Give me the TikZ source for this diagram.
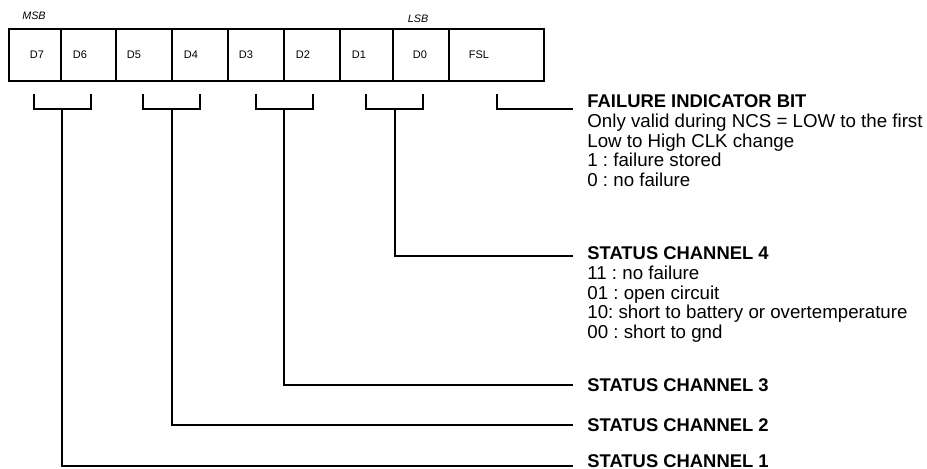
\documentclass[tikz,border=0pt]{standalone}
\usepackage{fontspec}
\setmainfont{Liberation Sans}
\usetikzlibrary{positioning}
\frenchspacing
\tikzset{
  frame/.style={draw=black,line width=1pt},
  wire/.style={draw=black,line width=1pt},
  bitlab/.style={font=\fontsize{5.5}{6}\selectfont,inner sep=0pt},
  endlab/.style={font=\fontsize{5.4}{6}\selectfont\itshape,inner sep=0pt},
  head/.style={anchor=west,inner xsep=7pt,inner ysep=0pt,font=\fontsize{9.2}{9.7}\selectfont\bfseries},
  note/.style={inner xsep=7pt,inner ysep=0pt,align=left,font=\fontsize{9.35}{9.75}\selectfont},
}

\begin{document}
\begin{tikzpicture}[x=0.5pt,y=-0.5pt]
\useasboundingbox (0,0) rectangle (927,469);
% register
\draw[frame] (9,29) rectangle (544,81);
\draw[frame] (61,29) -- (61,81);
\draw[frame] (116,29) -- (116,81);
\draw[frame] (172,29) -- (172,81);
\draw[frame] (228,29) -- (228,81);
\draw[frame] (284,29) -- (284,81);
\draw[frame] (340,29) -- (340,81);
\draw[frame] (393,29) -- (393,81);
\draw[frame] (449,29) -- (449,81);
\node[endlab] (msb) at (34,16) {MSB};
\node[endlab] (lsb) at (418,19) {LSB};
\node[bitlab] (d7) at (37,55) {D7};
\node[bitlab] (d6) at (80,55) {D6};
\node[bitlab] (d5) at (134,55) {D5};
\node[bitlab] (d4) at (191,55) {D4};
\node[bitlab] (d3) at (246,55) {D3};
\node[bitlab] (d2) at (303,55) {D2};
\node[bitlab] (d1) at (359,55) {D1};
\node[bitlab] (d0) at (420,55) {D0};
\node[bitlab] (fsl) at (479,55) {FSL};
% texts on the right
\node[head] (fslhead) at (573,101) {FAILURE INDICATOR BIT};
\node[note,below=3pt of fslhead.south west,anchor=north west] (fslnote) {Only valid during NCS = LOW to the first\\Low to High CLK change\\1 : failure stored\\0 : no failure};
\node[head] (ch4head) at (573,253) {STATUS CHANNEL 4};
\node[note,below=3pt of ch4head.south west,anchor=north west] (ch4note) {11 : no failure\\01 : open circuit\\10: short to battery or overtemperature\\00 : short to gnd};
\node[head] (ch3) at (573,385) {STATUS CHANNEL 3};
\node[head] (ch2) at (573,425) {STATUS CHANNEL 2};
\node[head] (ch1) at (573,461) {STATUS CHANNEL 1};
% brackets
\draw[wire] (34,94) |- (91,109) -- (91,94);
\draw[wire] (143,94) |- (200,109) -- (200,94);
\draw[wire] (256,94) |- (313,109) -- (313,94);
\draw[wire] (366,94) |- (423,109) -- (423,94);
\coordinate (s1) at (62,109);
\coordinate (s2) at (172,109);
\coordinate (s3) at (284,109);
\coordinate (s4) at (395,109);
\coordinate (sf) at (497,94);
\draw[wire] (s1) |- (ch1.west |- 0,466);
\draw[wire] (s2) |- (ch2.west);
\draw[wire] (s3) |- (ch3.west);
\draw[wire] (s4) |- (ch4head.west |- 0,256);
\draw[wire] (sf) |- (fslhead.west |- 0,109);
\end{tikzpicture}
\end{document}
